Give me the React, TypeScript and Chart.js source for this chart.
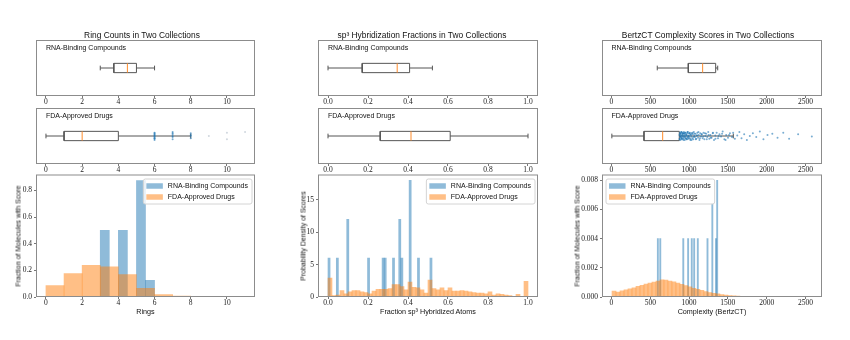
import React, { useEffect, useRef } from "react";
import { Chart, registerables } from "chart.js";

Chart.register(...registerables);

// ---------------- Ring counts ----------------
const ringRange = [-0.55, 11.55];
const ringTicks = [0, 2, 4, 6, 8, 10];
const ringRnaBox = [3, 3.75, 4.5, 5, 6]; // whisker low, q1, median, q3, whisker high
const ringFdaBox = [0, 1, 2, 4, 8];
const ringFdaPoints = [6, 6, 6, 6, 6, 6, 6, 6, 6, 6, 7, 7, 7, 7, 7, 7, 8, 8, 8, 8];
const ringFdaPointJitter = [-0.07, -0.05, -0.03, -0.01, 0.0, 0.02, 0.03, 0.05, 0.06, -0.04, -0.06, -0.02, 0.0, 0.03, 0.05, 0.07, -0.04, 0.0, 0.02, 0.05];
const ringFdaFliers = [9, 10, 10, 11];
const ringFdaFlierJitter = [0.0, 0.06, -0.06, 0.07];
const ringRnaBinCenters = [3.25, 3.75, 4.25, 4.75, 5.25, 5.75];
const ringRnaDensity = [0.5, 0, 0.5, 0, 0.875, 0.125];
const ringFdaBinCenters = [0.5, 1.5, 2.5, 3.5, 4.5, 5.5, 6.5, 7.5, 8.5, 9.5, 10.5];
const ringFdaDensity = [0.085, 0.175, 0.238, 0.227, 0.168, 0.065, 0.019, 0.006, 0.003, 0.001, 0.001];
const ringYMax = 0.92;
const ringYTicks = [0, 0.2, 0.4, 0.6, 0.8];

// ---------------- sp3 fractions ----------------
const sp3Range = [-0.05, 1.05];
const sp3Ticks = [0, 0.2, 0.4, 0.6, 0.8, 1.0];
const sp3RnaBox = [0, 0.171, 0.346, 0.408, 0.522];
const sp3FdaBox = [0, 0.261, 0.415, 0.611, 1.0];
const sp3RnaBinStart = 0;
const sp3RnaBinWidth = 0.0104;
const sp3RnaDensity = [
  6, 0, 0, 0, 6, 0, 0, 0, 0, 12,
  0, 0, 0, 0, 0, 0, 0, 0, 0, 6,
  0, 0, 0, 0, 0, 0, 6, 6, 0, 0,
  0, 6, 0, 0, 12, 6, 0, 0, 0, 18,
  0, 0, 0, 6, 0, 0, 0, 0, 0, 6,
];
const sp3FdaBinStart = 0;
const sp3FdaBinWidth = 0.02;
const sp3FdaDensity = [
  2.9, 0.2, 0.3, 1.0, 0.5, 0.8, 1.0, 1.0, 0.8, 0.7,
  0.5, 0.9, 1.2, 1.2, 1.2, 1.3, 1.9, 1.9, 1.6, 1.1,
  2.3, 1.5, 1.4, 1.1, 0.6, 2.6, 1.3, 1.1, 1.4, 1.0,
  1.4, 0.9, 0.9, 1.0, 0.9, 0.8, 0.7, 0.6, 0.6, 0.5,
  0.8, 0.3, 0.5, 0.4, 0.3, 0.2, 0.1, 0.4, 0.1, 2.4,
];
const sp3YMax = 18.9;
const sp3YTicks = [0, 5, 10, 15];

// ---------------- BertzCT ----------------
const bertzRange = [-122, 2713];
const bertzTicks = [0, 500, 1000, 1500, 2000, 2500];
const bertzRnaBox = [590, 990, 1175, 1343, 1369];
const bertzFdaBox = [5, 419, 660, 874, 1570];
const bertzFdaPoints = [
  876, 879, 882, 884, 887, 889, 892, 895, 898, 901, 903, 906, 909, 913, 916, 919, 922, 926, 929, 933,
  936, 940, 944, 947, 951, 955, 959, 963, 967, 972, 976, 981, 985, 990, 995, 1000, 1006, 1011, 1017, 1023,
  1029, 1035, 1041, 1048, 1054, 1061, 1068, 1075, 1083, 1091, 1099, 1107, 1116, 1125, 1134, 1144, 1154, 1164, 1175, 1186,
  1197, 1209, 1221, 1234, 1247, 1261, 1275, 1290, 1305, 1321, 1338, 1355, 1373, 1392, 1412, 1433, 1455, 1478, 1502, 1527,
  1553, 1568, 1590, 1621, 1648, 1676, 1710, 1745, 1783, 1822, 1866, 1912, 1958, 2011, 2073, 2140, 2214, 2289, 2405, 2582,
  878, 886, 894, 900, 908, 915, 921, 928, 935, 942, 949, 957, 965, 973, 980, 988, 997, 1004, 1014, 1021,
  1032, 1044, 1057, 1070, 1087, 1103, 1121, 1140, 1161, 1182, 1205, 1228, 1252, 1279, 1308, 1340, 1380, 1425, 1470, 1515,
];
const bertzFdaPointJitter = [
  0.02, -0.05, 0.06, -0.01, 0.04, -0.07, 0.0, 0.05, -0.03, 0.07, -0.04, 0.01, -0.06, 0.03, 0.06, -0.02, 0.04, -0.05, 0.0, 0.07,
  -0.03, 0.05, -0.07, 0.02, -0.01, 0.06, -0.04, 0.03, -0.06, 0.01, 0.05, -0.02, 0.07, -0.05, 0.0, 0.04, -0.03, 0.06, -0.07, 0.02,
  -0.01, 0.05, -0.04, 0.03, -0.06, 0.07, 0.0, -0.02, 0.04, -0.05, 0.01, 0.06, -0.03, 0.02, -0.07, 0.05, -0.01, 0.03, -0.04, 0.06,
  -0.06, 0.0, 0.04, -0.02, 0.07, -0.05, 0.02, -0.03, 0.05, -0.07, 0.01, 0.06, -0.04, 0.03, -0.01, 0.08, -0.06, 0.02, -0.03, 0.05,
  -0.02, 0.06, -0.05, 0.01, 0.07, -0.04, 0.03, -0.07, 0.0, 0.05, -0.02, 0.08, -0.06, 0.02, 0.04, -0.03, 0.06, -0.05, 0.03, -0.01,
  -0.06, 0.03, -0.02, 0.07, -0.05, 0.01, 0.05, -0.07, 0.04, -0.01, 0.06, -0.04, 0.02, -0.06, 0.07, -0.03, 0.0, 0.05, -0.05, 0.03,
  -0.07, 0.06, -0.02, 0.04, -0.06, 0.01, 0.07, -0.04, 0.03, -0.01, 0.05, -0.06, 0.02, -0.03, 0.06, -0.05, 0.0, 0.04, -0.07, 0.02,
];
const bertzRnaBinStart = 590;
const bertzRnaBinWidth = 15.6;
const bertzRnaDensity = [
  0.004, 0, 0.004, 0, 0, 0, 0, 0, 0, 0,
  0, 0, 0, 0, 0, 0, 0, 0, 0, 0,
  0, 0.004, 0, 0, 0, 0.004, 0, 0, 0.004, 0,
  0.004, 0, 0, 0.004, 0, 0, 0, 0, 0, 0,
  0, 0.004, 0, 0, 0, 0.0064, 0, 0, 0.004, 0.008,
];
const bertzFdaBinStart = 7;
const bertzFdaBinWidth = 51.5;
const bertzFdaDensity = [
  0.0004, 0.00033, 0.00043, 0.0005, 0.00056, 0.00063, 0.00073, 0.0008, 0.00088, 0.00095,
  0.00102, 0.0011, 0.00118, 0.00116, 0.0011, 0.00104, 0.00096, 0.00087, 0.00078, 0.0007,
  0.0006, 0.00052, 0.00045, 0.00038, 0.00031, 0.00026, 0.00021, 0.00017, 0.00013, 0.0001,
  0.00008, 0.00006, 0.00005, 0.00004, 0.000035, 0.000025, 0.00002, 0.000015, 0.000012, 0.00001,
  0.000008, 0.000006, 0.000005, 0.000004, 0.000003, 0.000002, 0.000002, 0.000001, 0.000001, 0.000001,
];
const bertzYMax = 0.0084;
const bertzYTicks = [0, 0.002, 0.004, 0.006, 0.008];

// ---------------- labels ----------------
const seriesLabels = ["RNA-Binding Compounds", "FDA-Approved Drugs"];
const titles = [
  "Ring Counts in Two Collections",
  "sp\u00B3 Hybridization Fractions in Two Collections",
  "BertzCT Complexity Scores in Two Collections",
];
const xLabels = ["Rings", "Fraction sp\u00B3 Hybridized Atoms", "Complexity (BertzCT)"];
const yLabels = ["Fraction of Molecules with Score", "Probability Density of Scores", "Fraction of Molecules with Score"];

// ---------------- styling / layout ----------------
const BLUE = "rgba(31,119,180,0.5)";
const ORANGE = "rgba(255,127,14,0.5)";
const BOX_LINE = "#555";
const MEDIAN = "#ff8c2a";
const TICK_FONT = { family: "'Liberation Serif', serif", size: 7.5 };
const TICK_COLOR = "#222";
const SANS = "'Liberation Sans', Arial, sans-serif";
const PAD = { left: 14, right: 14, top: 6, bottom: 2 };
const BOX_XH = 11;
const HIST_XH = 12;
const HIST_YW = 26;
const colFrames = [
  { l: 36, w: 219 },
  { l: 318, w: 220 },
  { l: 602, w: 220 },
];
const rowBox1 = { t: 40, h: 56 };
const rowBox2 = { t: 108, h: 56 };
const rowHist = { t: 174, h: 123 };
const titleCenters = [142, 422, 708];
const yLabelX = [18.3, 303.3, 576.5];
const BOX_C = 0.5;
const BOX_H = 0.083;
const CAP_H = 0.042;

const framePlugin = {
  id: "frameRect",
  afterDraw(chart: any) {
    const { ctx, chartArea: a } = chart;
    ctx.save();
    ctx.strokeStyle = "#8c8c8c";
    ctx.lineWidth = 1;
    ctx.strokeRect(a.left + 0.5, a.top + 0.5, a.right - a.left - 1, a.bottom - a.top - 1);
    ctx.restore();
  },
};

const legendPlugin = {
  id: "insideLegend",
  afterDraw(chart: any, _args: any, opts: any) {
    const side = (opts && opts.side) || "right";
    const { ctx, chartArea: a } = chart;
    const ds = chart.data.datasets;
    ctx.save();
    ctx.font = `7px ${SANS}`;
    const tw = Math.max(...ds.map((d: any) => ctx.measureText(d.label).width));
    const patchW = 16.5;
    const padX = 3.5;
    const gap = 5;
    const w = padX + patchW + gap + tw + 3.5;
    const h = 25;
    const x = side === "right" ? a.right - 3.5 - w : a.left + 3.5;
    const y = a.top + 4;
    ctx.beginPath();
    if (ctx.roundRect) ctx.roundRect(x + 0.5, y + 0.5, w, h, 2);
    else ctx.rect(x + 0.5, y + 0.5, w, h);
    ctx.fillStyle = "rgba(255,255,255,0.8)";
    ctx.fill();
    ctx.strokeStyle = "#d4d4d4";
    ctx.lineWidth = 1;
    ctx.stroke();
    ds.forEach((d: any, i: number) => {
      const cy = y + 7.5 + i * 11;
      ctx.fillStyle = d.backgroundColor;
      ctx.fillRect(x + padX, cy - 2.75, patchW, 5.5);
      ctx.fillStyle = "#111";
      ctx.textBaseline = "middle";
      ctx.textAlign = "left";
      ctx.fillText(d.label, x + padX + patchW + gap, cy + 0.5);
    });
    ctx.restore();
  },
};

function seg(points: any[], color: string) {
  return {
    data: points,
    showLine: true,
    borderColor: color,
    backgroundColor: color,
    borderWidth: 1,
    pointRadius: 0,
    fill: false,
  };
}

function boxDatasets(stats: number[], pts?: number[], jit?: number[], fl?: number[], flJit?: number[]) {
  const [lo, q1, med, q3, hi] = stats;
  const out: any[] = [];
  if (pts && jit) {
    out.push({
      data: pts.map((v, i) => ({ x: v, y: BOX_C + jit[i] })),
      showLine: false,
      pointRadius: 1.0,
      pointBorderWidth: 0,
      backgroundColor: "rgba(31,119,180,0.6)",
      borderColor: "rgba(31,119,180,0.6)",
    });
  }
  if (fl && flJit) {
    out.push({
      data: fl.map((v, i) => ({ x: v, y: BOX_C + flJit[i] })),
      showLine: false,
      pointRadius: 1.0,
      pointBorderWidth: 0,
      backgroundColor: "rgba(120,140,160,0.35)",
      borderColor: "rgba(120,140,160,0.35)",
    });
  }
  out.push(seg([{ x: med, y: BOX_C - BOX_H }, { x: med, y: BOX_C + BOX_H }], MEDIAN));
  out.push(
    seg(
      [
        { x: q1, y: BOX_C - BOX_H },
        { x: q3, y: BOX_C - BOX_H },
        { x: q3, y: BOX_C + BOX_H },
        { x: q1, y: BOX_C + BOX_H },
        { x: q1, y: BOX_C - BOX_H },
      ],
      BOX_LINE
    )
  );
  out.push(seg([{ x: lo, y: BOX_C }, { x: q1, y: BOX_C }], BOX_LINE));
  out.push(seg([{ x: q3, y: BOX_C }, { x: hi, y: BOX_C }], BOX_LINE));
  out.push(seg([{ x: lo, y: BOX_C - CAP_H }, { x: lo, y: BOX_C + CAP_H }], BOX_LINE));
  out.push(seg([{ x: hi, y: BOX_C - CAP_H }, { x: hi, y: BOX_C + CAP_H }], BOX_LINE));
  return out;
}

function fixedTicks(values: number[]) {
  return (s: any) => {
    s.ticks = values.map((v) => ({ value: v }));
  };
}

function xAxis(range: number[], ticks: number[], fmt: (v: number) => string, h: number) {
  return {
    type: "linear",
    position: "bottom",
    min: range[0],
    max: range[1],
    offset: false,
    afterFit: (s: any) => {
      s.height = h;
    },
    afterBuildTicks: fixedTicks(ticks),
    ticks: {
      autoSkip: false,
      maxRotation: 0,
      minRotation: 0,
      padding: 0,
      font: TICK_FONT,
      color: TICK_COLOR,
      callback: (v: any) => fmt(Number(v)),
    },
    grid: { drawOnChartArea: false, drawTicks: true, tickLength: 2, color: "#777", offset: false },
    border: { display: false },
  };
}

function baseOptions() {
  return {
    responsive: false,
    maintainAspectRatio: false,
    animation: false,
    events: [],
    devicePixelRatio: 1,
    layout: { padding: PAD, autoPadding: false },
  };
}

function boxConfig(range: number[], ticks: number[], fmt: (v: number) => string, datasets: any[]) {
  return {
    type: "scatter",
    data: { datasets },
    options: {
      ...baseOptions(),
      plugins: { legend: { display: false }, tooltip: { enabled: false } },
      scales: {
        x: xAxis(range, ticks, fmt, BOX_XH),
        y: { type: "linear", min: 0, max: 1, display: false },
      },
    },
    plugins: [framePlugin],
  };
}

function toPoints(centers: number[], values: number[]) {
  return values.map((v, i) => ({ x: centers[i], y: v }));
}
function binCenters(start: number, width: number, n: number) {
  const c: number[] = [];
  for (let i = 0; i < n; i++) c.push(start + (i + 0.5) * width);
  return c;
}

function histConfig(
  range: number[],
  ticks: number[],
  fmt: (v: number) => string,
  rna: any[],
  fda: any[],
  yMax: number,
  yTicks: number[],
  yFmt: (v: number) => string,
  side: string
) {
  const barCommon = { borderWidth: 0, barPercentage: 1, categoryPercentage: 1, grouped: false, yAxisID: "y" };
  return {
    type: "bar",
    data: {
      datasets: [
        { ...barCommon, label: seriesLabels[0], data: rna, xAxisID: "x", backgroundColor: BLUE, order: 1 },
        { ...barCommon, label: seriesLabels[1], data: fda, xAxisID: "x2", backgroundColor: ORANGE, order: 0 },
      ],
    },
    options: {
      ...baseOptions(),
      plugins: { legend: { display: false }, tooltip: { enabled: false }, insideLegend: { side } },
      scales: {
        x: xAxis(range, ticks, fmt, HIST_XH),
        x2: { type: "linear", position: "bottom", min: range[0], max: range[1], display: false, offset: false, grid: { offset: false } },
        y: {
          type: "linear",
          position: "left",
          min: 0,
          max: yMax,
          afterFit: (s: any) => {
            s.width = HIST_YW;
          },
          afterBuildTicks: fixedTicks(yTicks),
          ticks: {
            padding: 2,
            font: TICK_FONT,
            color: TICK_COLOR,
            callback: (v: any) => yFmt(Number(v)),
          },
          grid: { drawOnChartArea: false, drawTicks: true, tickLength: 2, color: "#777" },
          border: { display: false },
        },
      },
    },
    plugins: [framePlugin, legendPlugin],
  };
}

function ChartCanvas({ left, top, width, height, make }: any) {
  const ref = useRef<HTMLCanvasElement | null>(null);
  useEffect(() => {
    const chart = new Chart(ref.current as any, make() as any);
    return () => chart.destroy();
  }, []);
  return (
    <canvas
      ref={ref}
      width={width}
      height={height}
      style={{ position: "absolute", left, top, width, height }}
    />
  );
}

function BoxPanel({ col, row, make }: any) {
  const f = colFrames[col];
  return (
    <ChartCanvas
      left={f.l - PAD.left}
      top={row.t - PAD.top}
      width={f.w + PAD.left + PAD.right}
      height={row.h + PAD.top + BOX_XH + PAD.bottom}
      make={make}
    />
  );
}

function HistPanel({ col, make }: any) {
  const f = colFrames[col];
  return (
    <ChartCanvas
      left={f.l - HIST_YW - PAD.left}
      top={rowHist.t - PAD.top}
      width={f.w + HIST_YW + PAD.left + PAD.right}
      height={rowHist.h + PAD.top + HIST_XH + PAD.bottom}
      make={make}
    />
  );
}

function Txt({ x, y, text, size, rotate, left }: any) {
  const tr = left ? "translate(0,-50%)" : `translate(-50%,-50%)${rotate ? " rotate(-90deg)" : ""}`;
  return (
    <div
      style={{
        position: "absolute",
        left: x,
        top: y,
        transform: tr,
        fontFamily: SANS,
        fontSize: size,
        whiteSpace: "nowrap",
        color: "#111",
        lineHeight: 1,
      }}
    >
      {text}
    </div>
  );
}

const intFmt = (v: number) => String(Math.round(v));
const oneDec = (v: number) => v.toFixed(1);
const threeDec = (v: number) => v.toFixed(3);

export default function App() {
  const ranges = [ringRange, sp3Range, bertzRange];
  const zeroX = ranges.map((r, i) => colFrames[i].l + ((0 - r[0]) / (r[1] - r[0])) * colFrames[i].w);
  return (
    <div style={{ position: "absolute", left: 0, top: 0, width: 850, height: 340, background: "#fff", overflow: "hidden" }}>
      {/* Ring counts */}
      <BoxPanel col={0} row={rowBox1} make={() => boxConfig(ringRange, ringTicks, intFmt, boxDatasets(ringRnaBox))} />
      <BoxPanel
        col={0}
        row={rowBox2}
        make={() =>
          boxConfig(ringRange, ringTicks, intFmt, boxDatasets(ringFdaBox, ringFdaPoints, ringFdaPointJitter, ringFdaFliers, ringFdaFlierJitter))
        }
      />
      <HistPanel
        col={0}
        make={() =>
          histConfig(
            ringRange,
            ringTicks,
            intFmt,
            toPoints(ringRnaBinCenters, ringRnaDensity),
            toPoints(ringFdaBinCenters, ringFdaDensity),
            ringYMax,
            ringYTicks,
            oneDec,
            "right"
          )
        }
      />
      {/* sp3 */}
      <BoxPanel col={1} row={rowBox1} make={() => boxConfig(sp3Range, sp3Ticks, oneDec, boxDatasets(sp3RnaBox))} />
      <BoxPanel col={1} row={rowBox2} make={() => boxConfig(sp3Range, sp3Ticks, oneDec, boxDatasets(sp3FdaBox))} />
      <HistPanel
        col={1}
        make={() =>
          histConfig(
            sp3Range,
            sp3Ticks,
            oneDec,
            toPoints(binCenters(sp3RnaBinStart, sp3RnaBinWidth, sp3RnaDensity.length), sp3RnaDensity),
            toPoints(binCenters(sp3FdaBinStart, sp3FdaBinWidth, sp3FdaDensity.length), sp3FdaDensity),
            sp3YMax,
            sp3YTicks,
            intFmt,
            "right"
          )
        }
      />
      {/* BertzCT */}
      <BoxPanel col={2} row={rowBox1} make={() => boxConfig(bertzRange, bertzTicks, intFmt, boxDatasets(bertzRnaBox))} />
      <BoxPanel
        col={2}
        row={rowBox2}
        make={() => boxConfig(bertzRange, bertzTicks, intFmt, boxDatasets(bertzFdaBox, bertzFdaPoints, bertzFdaPointJitter))}
      />
      <HistPanel
        col={2}
        make={() =>
          histConfig(
            bertzRange,
            bertzTicks,
            intFmt,
            toPoints(binCenters(bertzRnaBinStart, bertzRnaBinWidth, bertzRnaDensity.length), bertzRnaDensity),
            toPoints(binCenters(bertzFdaBinStart, bertzFdaBinWidth, bertzFdaDensity.length), bertzFdaDensity),
            bertzYMax,
            bertzYTicks,
            threeDec,
            "left"
          )
        }
      />
      {/* texts */}
      {titles.map((t, i) => (
        <Txt key={"t" + i} x={titleCenters[i]} y={34.5} text={t} size={8.4} />
      ))}
      {colFrames.map((f, i) => (
        <React.Fragment key={"s" + i}>
          <Txt x={zeroX[i]} y={rowBox1.t + 6.5} text={seriesLabels[0]} size={7} left />
          <Txt x={zeroX[i]} y={rowBox2.t + 6.5} text={seriesLabels[1]} size={7} left />
          <Txt x={f.l + f.w / 2} y={311.5} text={xLabels[i]} size={7.2} />
          <Txt x={yLabelX[i]} y={rowHist.t + rowHist.h / 2} text={yLabels[i]} size={7} rotate />
        </React.Fragment>
      ))}
    </div>
  );
}
